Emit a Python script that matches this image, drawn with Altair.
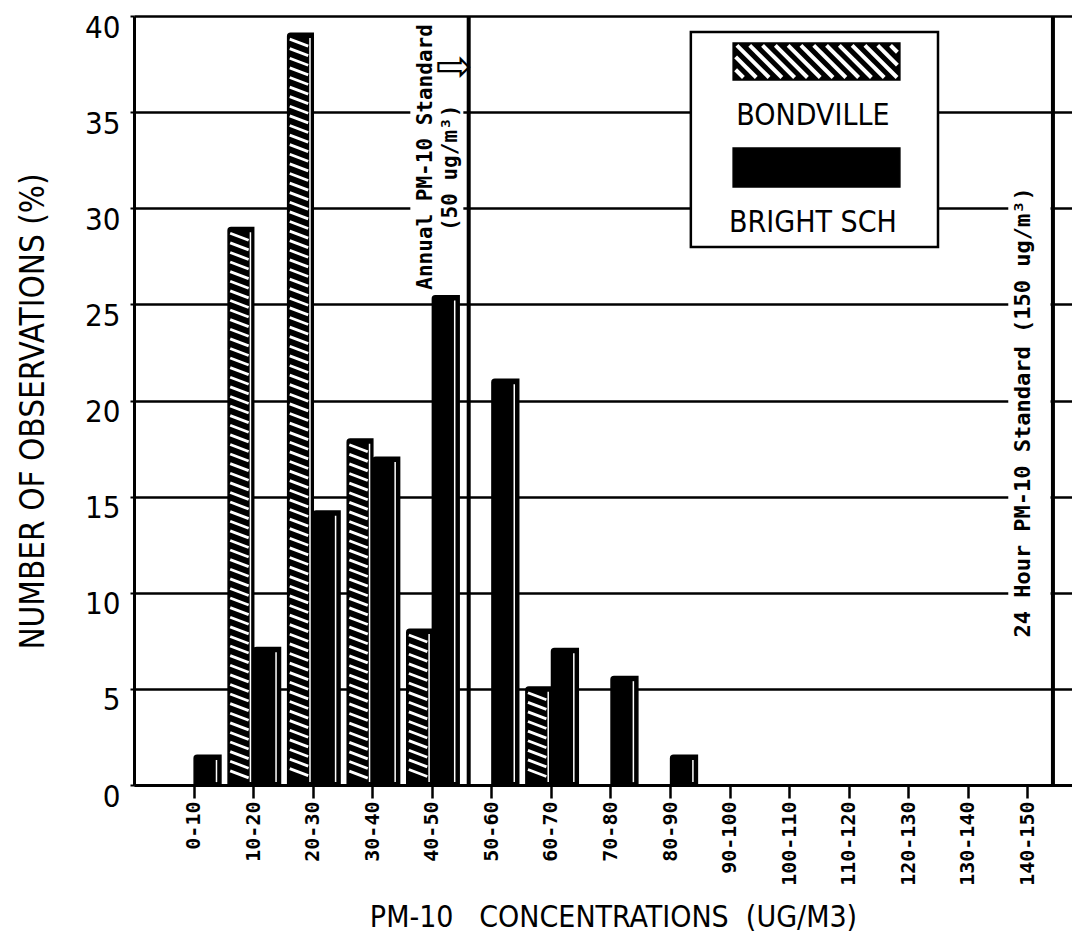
import altair as alt
import pandas as pd
import numpy as np

# ---------------- data ----------------
categories = ["0-10", "10-20", "20-30", "30-40", "40-50", "50-60", "60-70",
              "70-80", "80-90", "90-100", "100-110", "110-120", "120-130",
              "130-140", "140-150"]
bondville = [0, 29.0, 39.1, 18.0, 8.1, 0, 5.1, 0, 0, 0, 0, 0, 0, 0, 0]
bright_sch = [1.55, 7.15, 14.25, 17.05, 25.45, 21.1, 7.1, 5.65, 1.55, 0, 0, 0, 0, 0, 0]
series_names = ["BONDVILLE", "BRIGHT SCH"]
y_ticks = [0, 5, 10, 15, 20, 25, 30, 35, 40]
# standard lines (position on the concentration axis as drawn)
std_lines = [51.2, 149.3]
annot_text = ["Annual PM-10 Standard", "(50 ug/m\u00b3)",
              "24 Hour PM-10 Standard (150 ug/m\u00b3)"]
x_title = "PM-10\u00a0\u00a0\u00a0CONCENTRATIONS\u00a0\u00a0(UG/M3)"
y_title = "NUMBER OF OBSERVATIONS (%)"

# ---------------- layout / style ----------------
W, H = 938, 769
XDOM = [-5, 152.5]
YDOM = [0, 40]
PXX = W / (XDOM[1] - XDOM[0])   # px per concentration unit
PXY = H / (YDOM[1] - YDOM[0])   # px per percent
NARROW = "Liberation Sans Narrow, Arial Narrow, DejaVu Sans Condensed, sans-serif"
MONO = "DejaVu Sans Mono, Liberation Mono, monospace"

xs = alt.Scale(domain=XDOM, nice=False, zero=False)
ys = alt.Scale(domain=YDOM, nice=False, zero=False)

lo = [int(c.split("-")[0]) for c in categories]
mid = [l + 5 for l in lo]

rows = []
for c, m, b, s in zip(categories, mid, bondville, bright_sch):
    rows.append(dict(cat=c, series=series_names[0], x0=m - 4.2, x1=m + 0.1, v=b, wl=m - 0.45))
    rows.append(dict(cat=c, series=series_names[1], x0=m + 0.1, x1=m + 4.6, v=s, wl=m + 3.85))
bars_df = pd.DataFrame(rows)
shade_df = bars_df[bars_df.v > 0].copy()
shade_df["y0"] = 0.15
shade_df["y1"] = shade_df.v - 0.25

# hatch stripes for the Bondville bars
hatch = []
drop = 7 / PXY
step = 9.6 / PXY
for m, b in zip(mid, bondville):
    if b <= 0:
        continue
    yl = b - 0.3
    while yl - drop >= 0.2:
        hatch.append(dict(x0=m - 3.85, x1=m - 0.75, y0=yl, y1=yl - drop))
        yl -= step
hatch_df = pd.DataFrame(hatch)

# custom legend (in axis units)
box = pd.DataFrame([dict(x0=88.5, x1=130.0, y0=27.98, y1=39.17)])
sw = pd.DataFrame([
    dict(series=series_names[0], x0=95.6, x1=123.6, y0=36.67, y1=38.6),
    dict(series=series_names[1], x0=95.6, x1=123.6, y0=31.1, y1=33.13),
])
leg_txt = pd.DataFrame([
    dict(t=series_names[0], x=109.0, y=34.33),
    dict(t=series_names[1], x=109.0, y=28.77),
])
# legend hatch (45 deg)
lh = []
swx0, swy1 = 95.6, 38.6
wpx, hpx = (123.6 - 95.6) * PXX, (38.6 - 36.67) * PXY
inset = 2.5
t = -hpx
while t < wpx:
    s0 = max(inset, -t + inset)
    s1 = min(hpx - inset, wpx - inset - t)
    if s1 > s0:
        lh.append(dict(x0=swx0 + (t + s0) / PXX, x1=swx0 + (t + s1) / PXX,
                       y0=swy1 - s0 / PXY, y1=swy1 - s1 / PXY))
    t += 12.8
lh_df = pd.DataFrame(lh)

masks = pd.DataFrame([
    dict(x0=41.4, x1=50.3, y0=25.6, y1=39.85),
    dict(x0=141.8, x1=148.9, y0=7.1, y1=31.5),
])
std_df = pd.DataFrame(dict(x=std_lines, y0=[0, 0], y1=[40, 40]))
ann_df = pd.DataFrame([
    dict(t=annot_text[0], x=44.0, y=32.67, size=21),
    dict(t=annot_text[1], x=48.3, y=32.1, size=21),
    dict(t=annot_text[2], x=144.3, y=19.38, size=22),
])
arrow_df = pd.DataFrame([dict(t="\u21e8", x=48.7, y=37.3)])

label_lookup = "[" + ",".join("'%s'" % c for c in categories) + "]"

# ---------------- layers ----------------
noax = dict(axis=None)

bar_layer = alt.Chart(bars_df).mark_bar(fill="black", stroke="black", strokeWidth=1.5,
                                        cornerRadiusTopLeft=3).encode(
    x=alt.X("x0:Q", scale=xs,
            axis=alt.Axis(values=mid, labelExpr=label_lookup + "[round((datum.value - 5) / 10)]",
                          title=x_title, grid=False,
                          labelAngle=270, labelAlign="right", labelBaseline="middle",
                          labelFont=MONO, labelFontWeight="bold", labelFontSize=20,
                          labelColor="black", labelPadding=3, labelOverlap=False,
                          labelBound=False, labelFlush=False,
                          tickSize=13, tickWidth=2.5, tickColor="black",
                          domainColor="black", domainWidth=3,
                          titleFont=NARROW, titleFontSize=30, titleFontWeight="normal",
                          titleColor="black", titleX=479, titleY=141,
                          titleAlign="center", titleBaseline="alphabetic", titleAnchor="start")),
    x2="x1",
    y=alt.Y("v:Q", scale=ys,
            axis=alt.Axis(values=y_ticks, title=y_title, grid=True, gridColor="black",
                          gridWidth=2.5, gridOpacity=1,
                          labelFont=NARROW, labelFontSize=31, labelColor="black",
                          labelPadding=10, labelOverlap=False, labelBound=False, labelFlush=False,
                          labelBaseline="middle", labelOffset=12,
                          tickSize=4, tickWidth=2, tickColor="black",
                          domainColor="black", domainWidth=3,
                          titleFont=NARROW, titleFontSize=33, titleFontWeight="normal",
                          titleColor="black", titleAngle=270, titleX=-91, titleY=395,
                          titleAlign="center", titleBaseline="alphabetic", titleAnchor="start")),
    y2=alt.Y2(datum=0),
)

mask_layer = alt.Chart(masks).mark_rect(fill="white", stroke=None).encode(
    x=alt.X("x0:Q", scale=xs, **noax), x2="x1",
    y=alt.Y("y0:Q", scale=ys, **noax), y2="y1")

box_layer = alt.Chart(box).mark_rect(fill="white", stroke="black", strokeWidth=2.5).encode(
    x=alt.X("x0:Q", scale=xs, **noax), x2="x1",
    y=alt.Y("y0:Q", scale=ys, **noax), y2="y1")

shade_layer = alt.Chart(shade_df).mark_rule(color="white", strokeWidth=1.5).encode(
    x=alt.X("wl:Q", scale=xs, **noax),
    y=alt.Y("y0:Q", scale=ys, **noax), y2="y1")

hatch_layer = alt.Chart(hatch_df).mark_rule(color="white", strokeWidth=2.8).encode(
    x=alt.X("x0:Q", scale=xs, **noax), x2="x1",
    y=alt.Y("y0:Q", scale=ys, **noax), y2="y1")

sw_layer = alt.Chart(sw).mark_rect(fill="black", stroke="black", strokeWidth=1.5).encode(
    x=alt.X("x0:Q", scale=xs, **noax), x2="x1",
    y=alt.Y("y0:Q", scale=ys, **noax), y2="y1")

lh_layer = alt.Chart(lh_df).mark_rule(color="white", strokeWidth=4).encode(
    x=alt.X("x0:Q", scale=xs, **noax), x2="x1",
    y=alt.Y("y0:Q", scale=ys, **noax), y2="y1")

leg_txt_layer = alt.Chart(leg_txt).mark_text(font=NARROW, fontSize=30, color="black",
                                             align="center", baseline="alphabetic").encode(
    x=alt.X("x:Q", scale=xs, **noax), y=alt.Y("y:Q", scale=ys, **noax), text="t:N")

std_layer = alt.Chart(std_df).mark_rule(color="black", strokeWidth=4).encode(
    x=alt.X("x:Q", scale=xs, **noax),
    y=alt.Y("y0:Q", scale=ys, **noax), y2="y1")

ann_layer = alt.Chart(ann_df).mark_text(font=MONO, fontWeight="bold", color="black",
                                        angle=270, align="center", baseline="middle").encode(
    x=alt.X("x:Q", scale=xs, **noax), y=alt.Y("y:Q", scale=ys, **noax), text="t:N",
    size=alt.Size("size:Q", scale=None, legend=None))

arrow_layer = alt.Chart(arrow_df).mark_text(font="DejaVu Sans", fontSize=44, color="black",
                                            align="center", baseline="middle").encode(
    x=alt.X("x:Q", scale=xs, **noax), y=alt.Y("y:Q", scale=ys, **noax), text="t:N")

chart = alt.layer(
    bar_layer, mask_layer, box_layer, shade_layer, hatch_layer,
    sw_layer, lh_layer, leg_txt_layer, std_layer, ann_layer, arrow_layer
).resolve_axis(x="independent", y="independent").properties(
    width=W, height=H,
    autosize=alt.AutoSizeParams(type="none"),
    padding={"left": 126, "top": 8, "right": 0, "bottom": 152},
).configure_view(stroke=None).configure(background="white")

chart.save("out.html", embed_options={"renderer": "svg", "actions": False})
